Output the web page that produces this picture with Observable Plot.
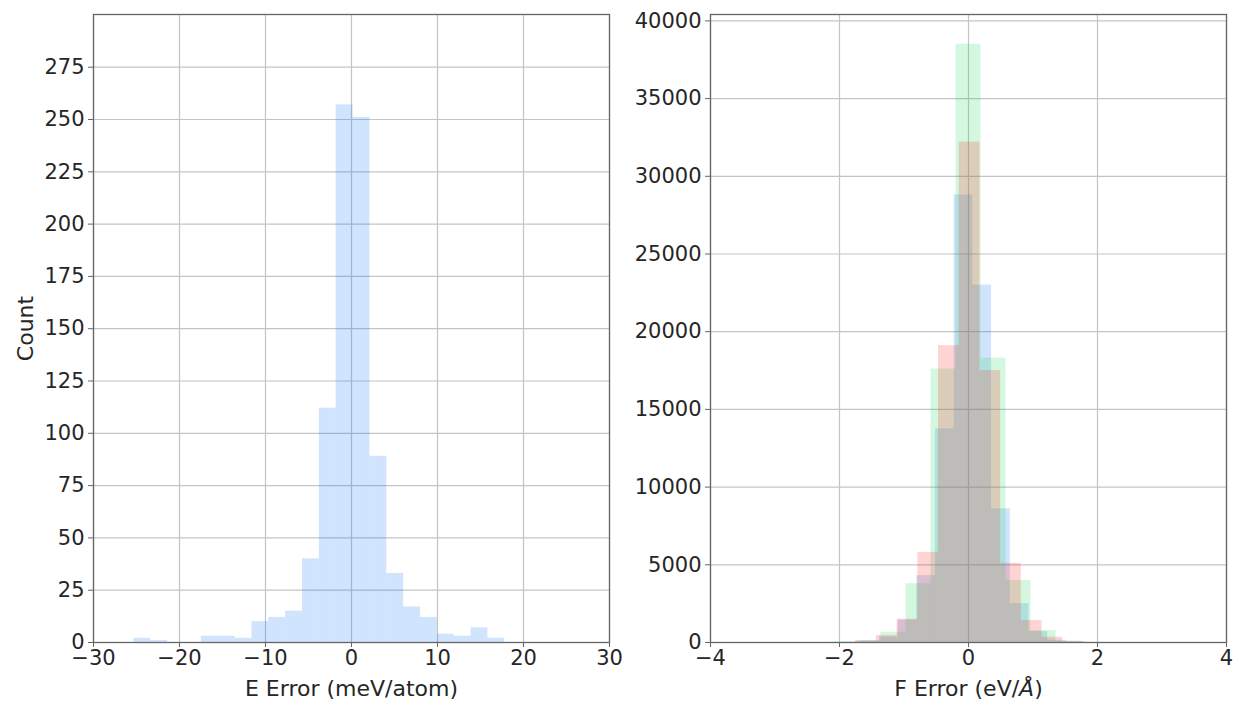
<!DOCTYPE html>
<html><head><meta charset="utf-8">
<script src="https://cdn.jsdelivr.net/npm/d3@7"></script>
<script src="https://cdn.jsdelivr.net/npm/@observablehq/plot@0.6"></script>
<style>
body{margin:0;background:#fff;}
#wrap{position:relative;width:1241px;height:706px;font-family:"DejaVu Sans",sans-serif;}
#left{position:absolute;left:0;top:0;z-index:2;}
#right{position:absolute;left:620px;top:0;z-index:1;}
svg{overflow:visible;}
</style></head><body><div id="wrap"><div id="left"></div><div id="right"></div></div>
<script>
// ---- Left panel: energy error histogram ----
const eEdges = [-25.30, -23.34, -21.38, -19.42, -17.46, -15.50, -13.54, -11.58, -9.62, -7.66, -5.70, -3.74, -1.78, 0.18, 2.14, 4.10, 6.06, 8.02, 9.98, 11.94, 13.90, 15.86, 17.82];
const eCounts = [2, 1, 0, 0, 3, 3, 2, 10, 12, 15, 40, 112, 257, 251, 89, 33, 17, 12, 4, 3, 7, 2];
const eXTicks = [-30, -20, -10, 0, 10, 20, 30];
const eYTicks = [0, 25, 50, 75, 100, 125, 150, 175, 200, 225, 250, 275];

// ---- Right panel: force error histograms (three components) ----
const fBlueEdges = [-1.961, -1.671, -1.381, -1.091, -0.802, -0.512, -0.222, 0.068, 0.358, 0.648, 0.938, 1.228, 1.518, 1.808];
const fBlueCounts = [20, 100, 350, 1450, 4300, 13750, 28800, 23000, 8600, 2500, 700, 150, 40];
const fGreenEdges = [-2.132, -1.744, -1.357, -0.969, -0.581, -0.194, 0.194, 0.581, 0.969, 1.357, 1.744, 2.132];
const fGreenCounts = [40, 130, 660, 3780, 17600, 38500, 18300, 4000, 770, 100, 20];
const fRedEdges = [-1.749, -1.428, -1.107, -0.786, -0.465, -0.144, 0.177, 0.498, 0.819, 1.140, 1.460, 1.781];
const fRedCounts = [100, 450, 1500, 5800, 19100, 32200, 17500, 5100, 1420, 340, 60];
const fXTicks = [-4, -2, 0, 2, 4];
const fYTicks = [0, 5000, 10000, 15000, 20000, 25000, 30000, 35000, 40000];

const BLUE = "rgb(20,120,245)", GREEN = "rgb(40,215,100)", RED = "rgb(255,40,40)";
const OP = 0.2;
const FONT = "DejaVu Sans";
const TXT = "#262626";
const fmt = d3.format("d");

function toBins(edges, counts) {
  return counts.map((c, i) => ({x1: edges[i], x2: edges[i + 1], y: c}));
}

function panel({xDomain, yDomain, xTicks, yTicks, series, xLabel, yLabel, marginLeft, marginRight}) {
  const marks = [
    Plot.gridX(xTicks, {stroke: "#c4c4c4", strokeOpacity: 1, strokeWidth: 1.2}),
    Plot.gridY(yTicks, {stroke: "#c4c4c4", strokeOpacity: 1, strokeWidth: 1.2}),
    ...series.map(s => Plot.rectY(toBins(s.edges, s.counts), {x1: "x1", x2: "x2", y: "y", fill: s.color, fillOpacity: OP, inset: 0})),
    Plot.frame({stroke: "#666", strokeWidth: 1.3}),
    Plot.axisX(xTicks, {tickSize: 5, tickPadding: 3, fontSize: 21, tickFormat: fmt, label: null, stroke: "#666", fill: TXT}),
    Plot.axisY(yTicks, {tickSize: 5, tickPadding: 4, fontSize: 21, tickFormat: fmt, label: null, stroke: "#666", fill: TXT}),
    Plot.text([xLabel], {text: d => d, frameAnchor: "bottom", lineAnchor: "middle", textAnchor: "middle", dy: 46, fontSize: 22, fill: TXT})
  ];
  if (yLabel) marks.push(Plot.text([yLabel], {text: d => d, frameAnchor: "left", textAnchor: "middle", lineAnchor: "middle", dx: -68, rotate: -90, fontSize: 22, fill: TXT}));
  return Plot.plot({
    width: marginLeft + 516 + marginRight, height: 706,
    marginTop: 14, marginBottom: 64, marginLeft, marginRight,
    style: {fontFamily: FONT, background: "transparent", overflow: "visible"},
    x: {domain: xDomain, axis: null},
    y: {domain: yDomain, axis: null},
    marks
  });
}

const left = panel({
  xDomain: [-30, 30], yDomain: [0, 300.2], xTicks: eXTicks, yTicks: eYTicks,
  series: [{edges: eEdges, counts: eCounts, color: BLUE}],
  xLabel: "E Error (meV/atom)", yLabel: "Count", marginLeft: 93, marginRight: 11
});
const right = panel({
  xDomain: [-4, 4], yDomain: [0, 40412], xTicks: fXTicks, yTicks: fYTicks,
  series: [
    {edges: fBlueEdges, counts: fBlueCounts, color: BLUE},
    {edges: fGreenEdges, counts: fGreenCounts, color: GREEN},
    {edges: fRedEdges, counts: fRedCounts, color: RED}
  ],
  xLabel: "F Error (eV/Å)", yLabel: null, marginLeft: 90, marginRight: 15
});
document.getElementById("left").appendChild(left);
document.getElementById("right").appendChild(right);
// italic Å as in the original
right.querySelectorAll("text").forEach(t => {
  if (t.textContent === "F Error (eV/Å)") {
    t.innerHTML = 'F Error (eV/<tspan font-style="italic">Å</tspan>)';
  }
});
</script></body></html>
